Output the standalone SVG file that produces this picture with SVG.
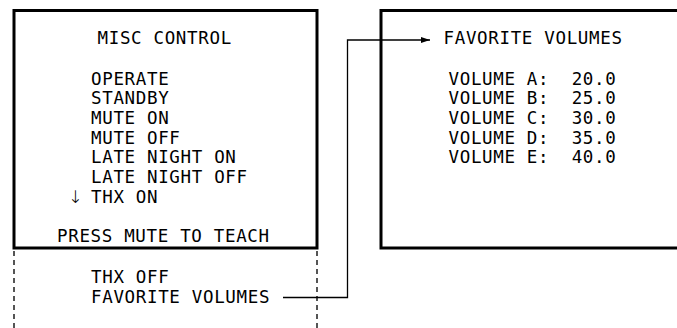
<svg xmlns="http://www.w3.org/2000/svg" width="677" height="328" viewBox="0 0 677 328">
<style>
  .box { fill: #ffffff; stroke: #000000; stroke-width: 3; }
  .dash { stroke: #555555; stroke-width: 2; stroke-dasharray: 5 4; fill: none; }
  .t { font-family: "DejaVu Sans Mono", "Liberation Mono", monospace; font-size: 17.5px; letter-spacing: 0.66px; fill: #000000; white-space: pre; }
  .ar { font-family: "DejaVu Sans", sans-serif; font-weight: 200; }
  .conn { stroke: #000000; stroke-width: 1.3; fill: none; }
</style>
<defs>
  <marker id="arrow" markerWidth="10" markerHeight="8" refX="9" refY="4" orient="auto" markerUnits="userSpaceOnUse">
    <path d="M0,1 L9,4 L0,7 Z" fill="#000000"/>
  </marker>
</defs>
<rect width="677" height="328" fill="#ffffff"/>
<g id="misc-control">
  <rect class="box" x="14" y="10.5" width="303" height="237.5"/>
  <text class="t" x="97.5" y="44.3">MISC CONTROL</text>
  <text class="t" x="91" y="84.5">OPERATE</text>
  <text class="t" x="91" y="104.2">STANDBY</text>
  <text class="t" x="91" y="124">MUTE ON</text>
  <text class="t" x="91" y="143.7">MUTE OFF</text>
  <text class="t" x="91" y="163.4">LATE NIGHT ON</text>
  <text class="t" x="91" y="183.2">LATE NIGHT OFF</text>
  <text class="t ar" x="68" y="203">↓</text>
  <text class="t" x="91" y="203">THX ON</text>
  <text class="t" x="57" y="242.4">PRESS MUTE TO TEACH</text>
</g>
<g id="misc-control-hidden">
  <line class="dash" x1="14" y1="251" x2="14" y2="328"/>
  <line class="dash" x1="317" y1="251" x2="317" y2="328"/>
  <text class="t" x="91" y="283.3">THX OFF</text>
  <text class="t" x="91" y="303.2">FAVORITE VOLUMES</text>
</g>
<g id="favorite-volumes">
  <rect class="box" x="381" y="10.5" width="310" height="237.5"/>
  <text class="t" x="443.5" y="44.3">FAVORITE VOLUMES</text>
  <text class="t" x="448.5" y="84.5">VOLUME A:  20.0</text>
  <text class="t" x="448.5" y="104.2">VOLUME B:  25.0</text>
  <text class="t" x="448.5" y="124">VOLUME C:  30.0</text>
  <text class="t" x="448.5" y="143.7">VOLUME D:  35.0</text>
  <text class="t" x="448.5" y="163.4">VOLUME E:  40.0</text>
</g>
<g id="connectors">
  <polyline class="conn" points="283,297.5 347.5,297.5 347.5,40 430,40" marker-end="url(#arrow)"/>
</g>
</svg>
